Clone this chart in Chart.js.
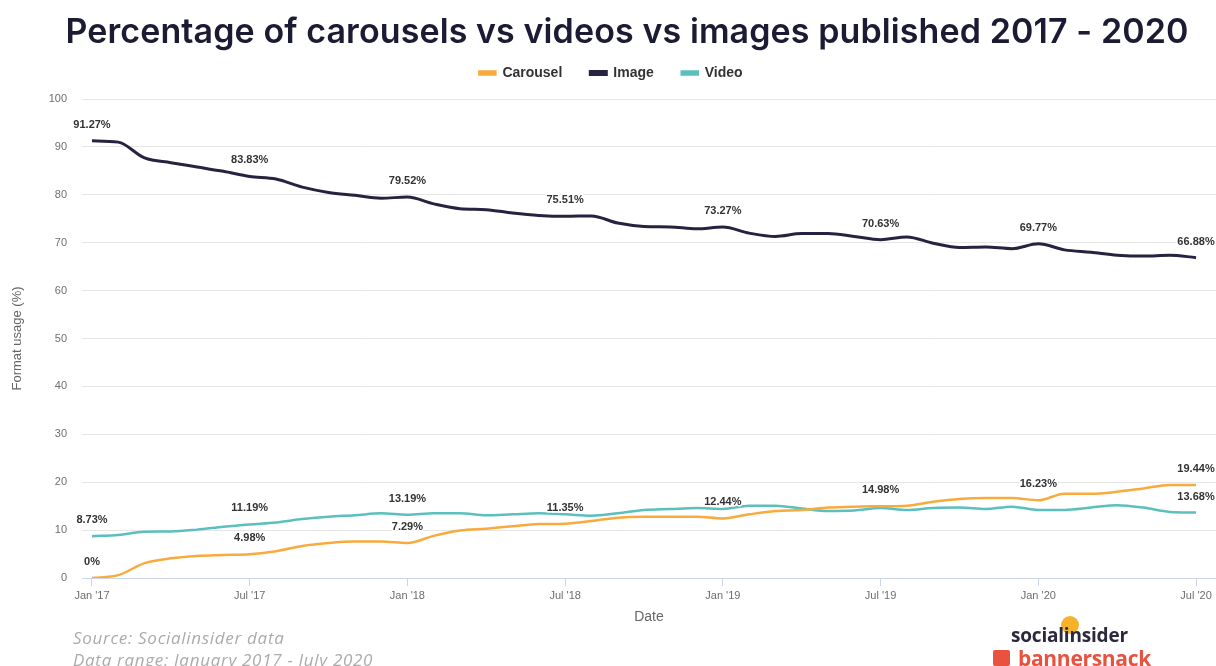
<!DOCTYPE html>
<html>
<head>
<meta charset="utf-8">
<script src="https://cdn.jsdelivr.net/npm/chart.js@4.4.1/dist/chart.umd.min.js"></script>
<style>
  body { margin: 0; background: #fff; width: 1216px; height: 666px; overflow: hidden; position: relative; }
  #wrap { position: absolute; left: 0; top: 0; width: 1216px; height: 630px; }
  #title { position: absolute; left: 0; top: 11px; width: 1254px; text-align: center; line-height: 40px; font-family: Inter, "Noto Sans", sans-serif; font-weight: 600; font-size: 34px; letter-spacing: 0.1px; color: #1c1b34; white-space: nowrap; }
  .foot { position: absolute; left: 73px; font-family: "Open Sans", sans-serif; font-style: italic; font-size: 17px; letter-spacing: 0.7px; color: #ababab; white-space: nowrap; }
  #si { position: absolute; left: 1011px; top: 622px; font-family: "Open Sans", sans-serif; font-weight: 700; font-size: 19px; color: #2b2a3d; letter-spacing: -0.2px; }
  #dot { position: absolute; left: 1061px; top: 616px; width: 18px; height: 18px; border-radius: 9px; background: #f5b22a; }
  #bs { position: absolute; left: 1018px; top: 644px; font-family: "Open Sans", sans-serif; font-weight: 700; font-size: 21px; color: #e8523f; letter-spacing: -0.3px; }
  #bsi { position: absolute; left: 993px; top: 650px; width: 17px; height: 16px; background: #e8523f; border-radius: 2px; }
</style>
</head>
<body>
<div id="wrap"><canvas id="formatChart"></canvas></div>
<div id="title">Percentage of carousels vs videos vs images published 2017 - 2020</div>
<div class="foot" style="top:626px">Source: Socialinsider data</div>
<div class="foot" style="top:648px">Data range: January 2017 - July 2020</div>
<div id="dot"></div>
<div id="si">socialinsider</div>
<div id="bsi"></div>
<div id="bs">bannersnack</div>
<script>
const months = ["Jan '17","Feb '17","Mar '17","Apr '17","May '17","Jun '17","Jul '17","Aug '17","Sep '17","Oct '17","Nov '17","Dec '17",
    "Jan '18","Feb '18","Mar '18","Apr '18","May '18","Jun '18","Jul '18","Aug '18","Sep '18","Oct '18","Nov '18","Dec '18",
    "Jan '19","Feb '19","Mar '19","Apr '19","May '19","Jun '19","Jul '19","Aug '19","Sep '19","Oct '19","Nov '19","Dec '19",
    "Jan '20","Feb '20","Mar '20","Apr '20","May '20","Jun '20","Jul '20"];

const carousel = [0, 0.6, 3.1, 4.1, 4.6, 4.8, 4.98, 5.6, 6.7, 7.3, 7.6, 7.6,
    7.29, 8.8, 9.9, 10.3, 10.8, 11.25, 11.35, 11.9, 12.6, 12.8, 12.8, 12.8,
    12.44, 13.3, 14.0, 14.2, 14.7, 14.9, 14.98, 15.1, 15.9, 16.5, 16.7, 16.7,
    16.23, 17.6, 17.6, 18.0, 18.7, 19.4, 19.44];

const image = [91.27, 91.0, 87.7, 86.7, 85.8, 84.9, 83.83, 83.3, 81.6, 80.5, 79.9, 79.3,
    79.52, 78.1, 77.1, 76.9, 76.2, 75.7, 75.51, 75.6, 74.1, 73.4, 73.3, 72.9,
    73.27, 72.0, 71.3, 71.9, 71.9, 71.3, 70.63, 71.2, 69.9, 69.0, 69.1, 68.75,
    69.77, 68.5, 68.0, 67.4, 67.2, 67.4, 66.88];

const video = [8.73, 9.0, 9.65, 9.7, 10.1, 10.7, 11.19, 11.6, 12.3, 12.8, 13.1, 13.5,
    13.19, 13.5, 13.5, 13.1, 13.3, 13.5, 13.3, 13.0, 13.5, 14.2, 14.4, 14.6,
    14.4, 15.1, 15.1, 14.5, 14.0, 14.1, 14.6, 14.2, 14.6, 14.7, 14.4, 14.9,
    14.2, 14.2, 14.7, 15.2, 14.7, 13.8, 13.68];

// which months get a value label
const carouselLabels = [0, 6, 12, 18, 24, 30, 36, 42];
const imageLabels = [0, 6, 12, 18, 24, 30, 36, 42];
const videoLabels = [0, 6, 12, 42];

const tickMonths = [0, 6, 12, 18, 24, 30, 36, 42];

const toPoints = (arr) => arr.map((v, i) => ({ x: i, y: v }));

const valueLabels = {
    id: 'valueLabels',
    afterDatasetsDraw(chart) {
        const ctx = chart.ctx;
        ctx.save();
        ctx.font = 'bold 11px "Liberation Sans", Arial, sans-serif';
        ctx.textAlign = 'center';
        ctx.textBaseline = 'middle';
        ctx.lineJoin = 'round';
        chart.data.datasets.forEach((ds, di) => {
            const meta = chart.getDatasetMeta(di);
            ds.labelIdx.forEach((i) => {
                const pt = meta.data[i];
                const txt = ds.data[i].y + '%';
                ctx.lineWidth = 3;
                ctx.strokeStyle = '#ffffff';
                ctx.strokeText(txt, pt.x, pt.y - 16);
                ctx.fillStyle = '#333333';
                ctx.fillText(txt, pt.x, pt.y - 16);
            });
        });
        ctx.restore();
    }
};

// extra room under the legend
const legendGap = {
    id: 'legendGap',
    beforeInit(chart) {
        const fit = chart.legend.fit;
        chart.legend.fit = function () {
            fit.bind(chart.legend)();
            this.height += 9;
        };
    }
};

const formatChart = document.getElementById("formatChart").getContext("2d");

new Chart(formatChart, {
    type: "line",
    data: {
        datasets: [
            {
                label: "Carousel",
                data: toPoints(carousel),
                labelIdx: carouselLabels,
                borderColor: "#f9aa3c",
                backgroundColor: "#f9aa3c",
                borderWidth: 2.5,
            },
            {
                label: "Image",
                data: toPoints(image),
                labelIdx: imageLabels,
                borderColor: "#25233f",
                backgroundColor: "#25233f",
                borderWidth: 3,
            },
            {
                label: "Video",
                data: toPoints(video),
                labelIdx: videoLabels,
                borderColor: "#5bc0bd",
                backgroundColor: "#5bc0bd",
                borderWidth: 2.5,
            },
        ],
    },
    options: {
        responsive: true,
        maintainAspectRatio: false,
        animation: false,
        layout: { padding: { left: 6, right: 0, top: 38, bottom: 0 } },
        elements: {
            point: { radius: 0 },
            line: { tension: 0.4, cubicInterpolationMode: 'monotone' },
        },
        plugins: {
            legend: {
                display: true,
                labels: {
                    boxWidth: 16,
                    boxHeight: 3,
                    padding: 28,
                    color: "#333333",
                    font: { family: "'Liberation Sans', Arial, sans-serif", size: 14, weight: "bold" },
                },
            },
            tooltip: { enabled: false },
        },
        scales: {
            x: {
                type: "linear",
                min: -0.38,
                max: 42.76,
                afterBuildTicks: (scale) => {
                    scale.ticks = tickMonths.map((m) => ({ value: m }));
                },
                ticks: {
                    autoSkip: false,
                    maxRotation: 0,
                    color: "#6e6e6e",
                    font: { family: "'Liberation Sans', Arial, sans-serif", size: 11 },
                    callback: (v) => months[v],
                },
                grid: { drawOnChartArea: false, color: "#ccd6eb", tickLength: 8 },
                border: { color: "#ccd6eb" },
                title: {
                    display: true,
                    text: "Date",
                    color: "#666666",
                    font: { family: "'Liberation Sans', Arial, sans-serif", size: 14 },
                    padding: { top: 4 },
                },
            },
            y: {
                min: 0,
                max: 100,
                afterFit: (scale) => { scale.width = 76; },
                ticks: {
                    stepSize: 10,
                    padding: 15,
                    color: "#6e6e6e",
                    font: { family: "'Liberation Sans', Arial, sans-serif", size: 11 },
                },
                grid: { color: "#e6e6e6", drawTicks: false },
                border: { display: false },
                title: {
                    display: true,
                    text: "Format usage (%)",
                    color: "#666666",
                    font: { family: "'Liberation Sans', Arial, sans-serif", size: 13 },
                },
            },
        },
    },
    plugins: [valueLabels, legendGap],
});
</script>
</body>
</html>
